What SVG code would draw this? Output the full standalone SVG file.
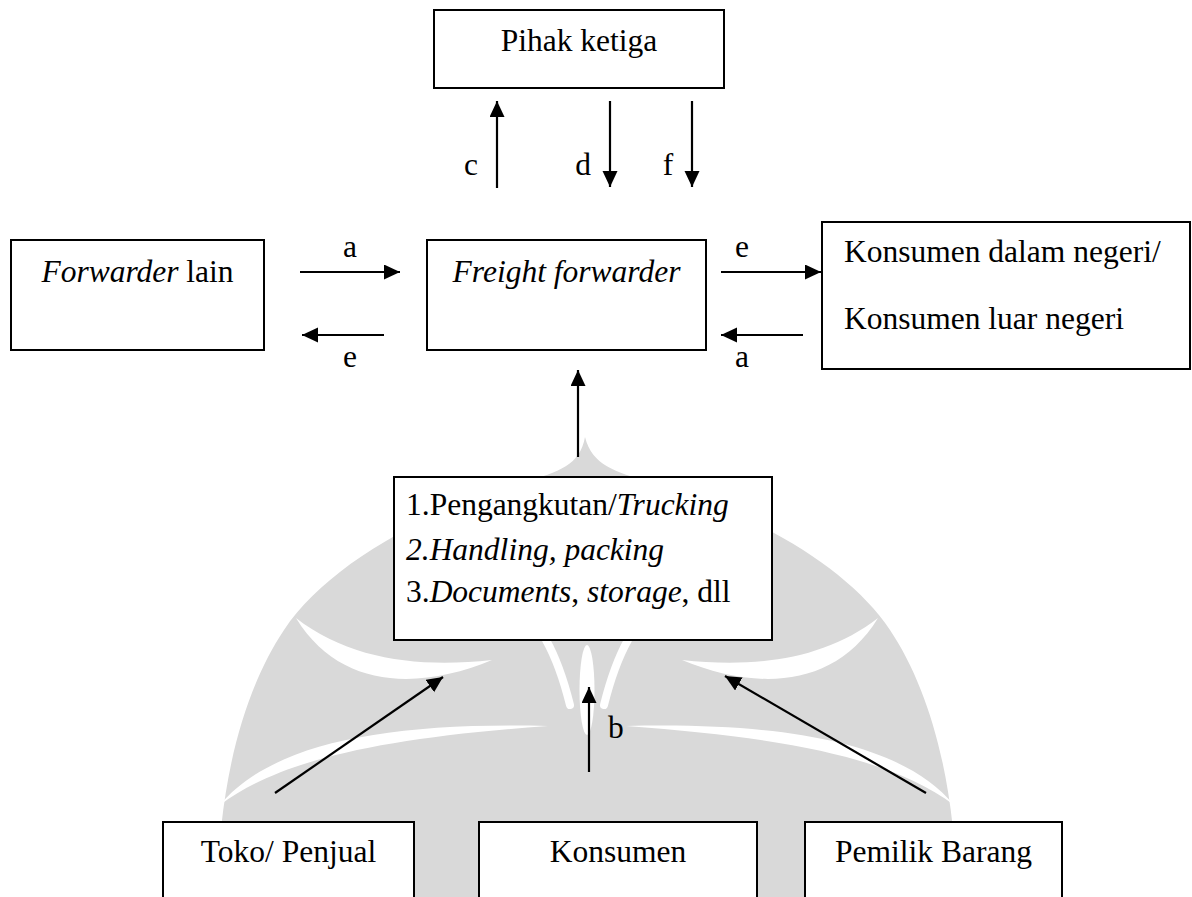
<svg xmlns="http://www.w3.org/2000/svg" width="1192" height="897" viewBox="0 0 1192 897">
<style>
  .box { fill: #ffffff; stroke: #000000; stroke-width: 2; }
  .t { font-family: "Liberation Serif", "Times New Roman", serif; font-size: 31.5px; fill: #000000; }
  .c { text-anchor: middle; }
  .i { font-style: italic; }
  .conn { stroke: #000000; stroke-width: 2.2; fill: none; marker-end: url(#ah); }
  .wm { fill: #d9d9d9; }
  .wmw { fill: #ffffff; }
</style>
<defs>
  <marker id="ah" markerUnits="userSpaceOnUse" markerWidth="17" markerHeight="16" refX="16" refY="7.5" orient="auto">
    <path d="M0,0 L16,7.5 L0,15 Z" fill="#000000"/>
  </marker>
</defs>
<rect width="1192" height="897" fill="#ffffff"/>

<g id="watermark">
  <path class="wm" d="M 585 437 C 592 465, 615 472, 650 482 C 760 515, 850 570, 890 630 C 930 690, 955 780, 957 897 L 217 897 C 219 780, 244 690, 284 630 C 324 570, 414 515, 524 482 C 559 472, 580 465, 585 437 Z"/>
  <path class="wmw" d="M 296 618 C 340 690, 420 690, 492 660 C 420 668, 350 660, 296 618 Z"/>
  <path class="wmw" d="M 878 618 C 834 690, 754 690, 682 660 C 754 668, 824 660, 878 618 Z"/>
  <path class="wmw" d="M 220 805 C 270 745, 380 722, 548 726 C 380 738, 280 760, 220 805 Z"/>
  <path class="wmw" d="M 954 805 C 904 745, 794 722, 626 726 C 794 738, 894 760, 954 805 Z"/>
  <ellipse class="wmw" cx="587" cy="690" rx="7.5" ry="45"/>
  <path d="M 546 640 Q 560 665 570 705" stroke="#ffffff" stroke-width="8" fill="none" stroke-linecap="round"/>
  <path d="M 628 640 Q 614 665 604 705" stroke="#ffffff" stroke-width="8" fill="none" stroke-linecap="round"/>
</g>

<g id="connectors">
  <line class="conn" x1="497" y1="188" x2="497" y2="101"/>
  <line class="conn" x1="610" y1="101" x2="610" y2="187"/>
  <line class="conn" x1="692" y1="101" x2="692" y2="187"/>
  <line class="conn" x1="300" y1="272" x2="400" y2="272"/>
  <line class="conn" x1="384" y1="335" x2="302" y2="335"/>
  <line class="conn" x1="721" y1="272" x2="821" y2="272"/>
  <line class="conn" x1="803" y1="335" x2="721" y2="335"/>
  <line class="conn" x1="578" y1="457" x2="578" y2="370"/>
  <line class="conn" x1="275" y1="793" x2="443" y2="677"/>
  <line class="conn" x1="589" y1="772" x2="589" y2="687"/>
  <line class="conn" x1="926" y1="793" x2="725" y2="676"/>
  <text class="t c" x="471" y="175">c</text>
  <text class="t c" x="583" y="175">d</text>
  <text class="t c" x="668" y="175">f</text>
  <text class="t c" x="350" y="257">a</text>
  <text class="t c" x="350" y="367">e</text>
  <text class="t c" x="742" y="257">e</text>
  <text class="t c" x="742" y="367">a</text>
  <text class="t" x="608" y="738">b</text>
</g>

<g id="pihak-ketiga">
  <rect class="box" x="434" y="10" width="290" height="78"/>
  <text class="t c" x="579" y="51">Pihak ketiga</text>
</g>

<g id="forwarder-lain">
  <rect class="box" x="11" y="240" width="253" height="110"/>
  <text class="t c" x="137.5" y="282"><tspan class="i">Forwarder</tspan> lain</text>
</g>

<g id="freight-forwarder">
  <rect class="box" x="427" y="240" width="279" height="110"/>
  <text class="t c i" x="566.5" y="282">Freight forwarder</text>
</g>

<g id="konsumen-negeri">
  <rect class="box" x="822" y="222" width="368" height="147"/>
  <text class="t" x="844" y="262">Konsumen dalam negeri/</text>
  <text class="t" x="844" y="329">Konsumen luar negeri</text>
</g>

<g id="layanan">
  <rect class="box" x="394" y="477" width="378" height="163"/>
  <text class="t" x="406" y="515">1.Pengangkutan/<tspan class="i">Trucking</tspan></text>
  <text class="t i" x="406" y="560">2.Handling, packing</text>
  <text class="t" x="406" y="602">3.<tspan class="i">Documents</tspan>, <tspan class="i">storage</tspan>, dll</text>
</g>

<g id="toko-penjual">
  <rect class="box" x="163" y="822" width="251" height="90"/>
  <text class="t c" x="288.5" y="862">Toko/ Penjual</text>
</g>

<g id="konsumen">
  <rect class="box" x="479" y="822" width="278" height="90"/>
  <text class="t c" x="618" y="862">Konsumen</text>
</g>

<g id="pemilik-barang">
  <rect class="box" x="805" y="822" width="257" height="90"/>
  <text class="t c" x="933.5" y="862">Pemilik Barang</text>
</g>
</svg>
